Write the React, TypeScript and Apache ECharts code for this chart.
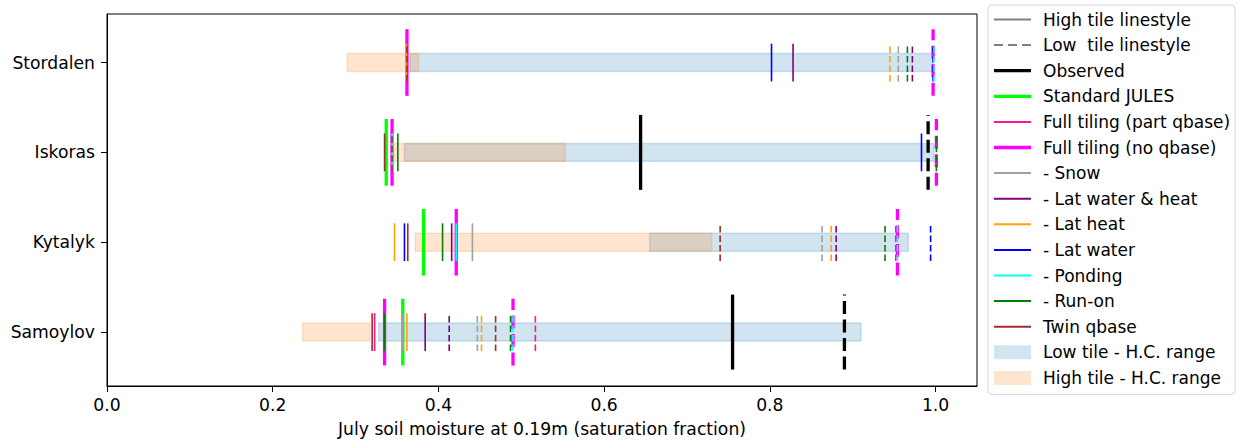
import React, { useEffect, useRef } from "react";
import * as echarts from "echarts";

// ---------- data ----------
const sites = ["Stordalen", "Iskoras", "Kytalyk", "Samoylov"];
const siteIndex = [0, 1, 2, 3];
const xTicks = [0, 0.2, 0.4, 0.6, 0.8, 1.0];

// hydraulic-conductivity ranges (min / max per site)
const lowRangeMin = [0.366, 0.359, 0.655, 0.328];
const lowRangeMax = [0.997, 0.998, 0.967, 0.91];
const highRangeMin = [0.29, 0.345, 0.372, 0.236];
const highRangeMax = [0.376, 0.553, 0.73, 0.317];

// per-experiment values: high tile (solid) and low tile (dashed), order = sites
const observedHigh = [null, 0.644, null, 0.755];
const observedLow = [null, 0.991, null, 0.89];
const standardHigh = [null, 0.337, 0.382, 0.357];
const standardLow = [null, null, null, null];
const fullPartHigh = [null, null, null, 0.323];
const fullPartLow = [null, null, 0.952, 0.517];
const fullNoHigh = [0.362, 0.344, 0.4215, 0.335];
const fullNoLow = [0.997, 1.001, 0.954, 0.49];
const snowHigh = [null, null, 0.441, 0.357];
const snowLow = [0.955, null, 0.863, 0.447];
const latWaterHeatHigh = [0.828, null, 0.416, 0.384];
const latWaterHeatLow = [0.972, null, 0.88, 0.413];
const latHeatHigh = [0.361, 0.345, 0.347, 0.362];
const latHeatLow = [0.945, null, 0.874, 0.452];
const latWaterHigh = [0.802, 0.983, 0.359, null];
const latWaterLow = [0.997, null, 0.994, null];
const pondingHigh = [null, 0.344, 0.4215, null];
const pondingLow = [0.998, null, 0.954, 0.49];
const runOnHigh = [null, 0.351, 0.405, 0.335];
const runOnLow = [0.966, 1.001, 0.939, 0.487];
const twinHigh = [null, 0.335, 0.363, 0.32];
const twinLow = [0.362, 0.344, 0.74, 0.469];

// ---------- styles ----------
const FONT = "DejaVu Sans";
const FS = 17.2;
const LEGEND_FS = 17;
const THICK_DASH = [13, 5.5];
const THIN_DASH = [6.5, 3];

type Exp = {
  name: string;
  color: string;
  width: number;
  half: number;
  dash: number[];
  high: (number | null)[];
  low: (number | null)[];
};

const experiments: Exp[] = [
  { name: "Observed", color: "#000000", width: 3.3, half: 0.417, dash: THICK_DASH, high: observedHigh, low: observedLow },
  { name: "Standard JULES", color: "#00ff00", width: 3.3, half: 0.371, dash: THICK_DASH, high: standardHigh, low: standardLow },
  { name: "Full tiling (part qbase)", color: "#ff1493", width: 1.6, half: 0.21, dash: THIN_DASH, high: fullPartHigh, low: fullPartLow },
  { name: "Full tiling (no qbase)", color: "#ff00ff", width: 3.3, half: 0.371, dash: THICK_DASH, high: fullNoHigh, low: fullNoLow },
  { name: "- Snow", color: "#a0a0a0", width: 1.6, half: 0.21, dash: THIN_DASH, high: snowHigh, low: snowLow },
  { name: "- Lat water & heat", color: "#800080", width: 1.6, half: 0.21, dash: THIN_DASH, high: latWaterHeatHigh, low: latWaterHeatLow },
  { name: "- Lat heat", color: "#ffa500", width: 1.6, half: 0.21, dash: THIN_DASH, high: latHeatHigh, low: latHeatLow },
  { name: "- Lat water", color: "#0000ff", width: 1.6, half: 0.21, dash: THIN_DASH, high: latWaterHigh, low: latWaterLow },
  { name: "- Ponding", color: "#00ffff", width: 1.6, half: 0.21, dash: THIN_DASH, high: pondingHigh, low: pondingLow },
  { name: "- Run-on", color: "#008000", width: 1.6, half: 0.21, dash: THIN_DASH, high: runOnHigh, low: runOnLow },
  { name: "Twin qbase", color: "#a52a2a", width: 1.6, half: 0.21, dash: THIN_DASH, high: twinHigh, low: twinLow },
];

const LOW_FILL = "rgba(31,119,180,0.2)";
const HIGH_FILL = "rgba(255,127,14,0.2)";
const BAND_HALF = 0.1;

const lineIcon = (w: number) => `path://M0,0H37V${w}H0Z`;
const dashIcon = "path://M0,0h9v2h-9z M14,0h9v2h-9z M28,0h9v2h-9z";
const patchIcon = "path://M0,0H37V14H0Z";

function buildOption() {
  const rangeSeries = (name: string, mins: number[], maxs: number[], fill: string) => ({
    type: "custom",
    name,
    itemStyle: { color: fill },
    encode: { x: [0, 1], y: 2 },
    data: siteIndex.map((i) => [mins[i], maxs[i], i]),
    renderItem: (_p: any, api: any) => {
      const s = api.value(2);
      const a = api.coord([api.value(0), s - BAND_HALF]);
      const b = api.coord([api.value(1), s + BAND_HALF]);
      return {
        type: "rect",
        shape: { x: a[0], y: Math.min(a[1], b[1]), width: b[0] - a[0], height: Math.abs(b[1] - a[1]) },
        style: { fill, stroke: fill, lineWidth: 1.5 },
      };
    },
  });

  const expSeries = experiments.map((e) => {
    const data: number[][] = [];
    siteIndex.forEach((i) => {
      if (e.high[i] != null) data.push([e.high[i] as number, i, 0]);
      if (e.low[i] != null) data.push([e.low[i] as number, i, 1]);
    });
    return {
      type: "custom",
      name: e.name,
      itemStyle: { color: e.color },
      encode: { x: 0, y: 1 },
      data,
      renderItem: (_p: any, api: any) => {
        const x = api.value(0);
        const s = api.value(1);
        const dashed = api.value(2) === 1;
        const bottom = api.coord([x, s + e.half]);
        const top = api.coord([x, s - e.half]);
        return {
          type: "line",
          shape: { x1: bottom[0], y1: bottom[1], x2: top[0], y2: top[1] },
          style: { stroke: e.color, lineWidth: e.width, lineDash: dashed ? e.dash : null, fill: null },
        };
      },
    };
  });

  const dummy = (name: string, color: string) => ({
    type: "custom",
    name,
    itemStyle: { color },
    data: [],
    renderItem: () => ({ type: "group", children: [] }),
  });

  const legendData: any[] = [
    { name: "High tile linestyle", icon: lineIcon(2), itemStyle: { color: "#808080" } },
    { name: "Low  tile linestyle", icon: dashIcon, itemStyle: { color: "#808080" } },
    ...experiments.map((e) => ({
      name: e.name,
      icon: lineIcon(e.width > 2 ? 3.3 : 2),
      itemStyle: { color: e.color },
    })),
    { name: "Low tile - H.C. range", icon: patchIcon, itemStyle: { color: LOW_FILL } },
    { name: "High tile - H.C. range", icon: patchIcon, itemStyle: { color: HIGH_FILL } },
  ];

  return {
    animation: false,
    backgroundColor: "#ffffff",
    textStyle: { fontFamily: FONT },
    grid: {
      left: 107,
      right: 268,
      top: 14,
      bottom: 57,
      show: true,
      borderColor: "#000",
      borderWidth: 1,
      outerBoundsMode: "none",
      containLabel: false,
    },
    legend: {
      orient: "vertical",
      left: 988,
      top: 5,
      padding: [6, 5, 8, 6],
      itemGap: 8.6,
      itemWidth: 37,
      itemHeight: 14,
      selectedMode: false,
      borderColor: "#d6d6d6",
      borderWidth: 1,
      borderRadius: 4,
      backgroundColor: "rgba(255,255,255,0.8)",
      textStyle: { fontFamily: FONT, fontSize: LEGEND_FS, color: "#000", lineHeight: 14, padding: [0, 0, 0, 7] },
      data: legendData,
    },
    xAxis: {
      type: "value",
      min: 0,
      max: 1.05,
      name: "July soil moisture at 0.19m (saturation fraction)",
      nameLocation: "middle",
      nameGap: 34,
      nameTextStyle: { fontFamily: FONT, fontSize: FS, color: "#000" },
      axisLine: { show: true, onZero: false, lineStyle: { color: "#000", width: 1 } },
      axisTick: { show: true, length: 6, customValues: xTicks, lineStyle: { color: "#000", width: 1 } },
      axisLabel: {
        show: true,
        customValues: xTicks,
        margin: 10,
        fontFamily: FONT,
        fontSize: FS,
        color: "#000",
        formatter: (v: number) => v.toFixed(1),
      },
      splitLine: { show: false },
    },
    yAxis: {
      type: "value",
      inverse: true,
      min: -0.54,
      max: 3.6,
      axisLine: { show: true, onZero: false, lineStyle: { color: "#000", width: 1 } },
      axisTick: { show: true, length: 6, customValues: siteIndex, lineStyle: { color: "#000", width: 1 } },
      axisLabel: {
        show: true,
        customValues: siteIndex,
        margin: 12,
        fontFamily: FONT,
        fontSize: FS,
        color: "#000",
        formatter: (v: number) => sites[Math.round(v)] ?? "",
      },
      splitLine: { show: false },
    },
    series: [
      dummy("High tile linestyle", "#808080"),
      dummy("Low  tile linestyle", "#808080"),
      rangeSeries("Low tile - H.C. range", lowRangeMin, lowRangeMax, LOW_FILL),
      rangeSeries("High tile - H.C. range", highRangeMin, highRangeMax, HIGH_FILL),
      ...expSeries,
    ],
  };
}

export default function App() {
  const ref = useRef<HTMLDivElement>(null);
  useEffect(() => {
    if (!ref.current) return;
    const chart = echarts.init(ref.current, null, { renderer: "svg" });
    chart.setOption(buildOption() as any);
    return () => chart.dispose();
  }, []);
  return (
    <div
      ref={ref}
      style={{ position: "fixed", left: 0, top: 0, width: 1245, height: 443, background: "#fff" }}
    />
  );
}
